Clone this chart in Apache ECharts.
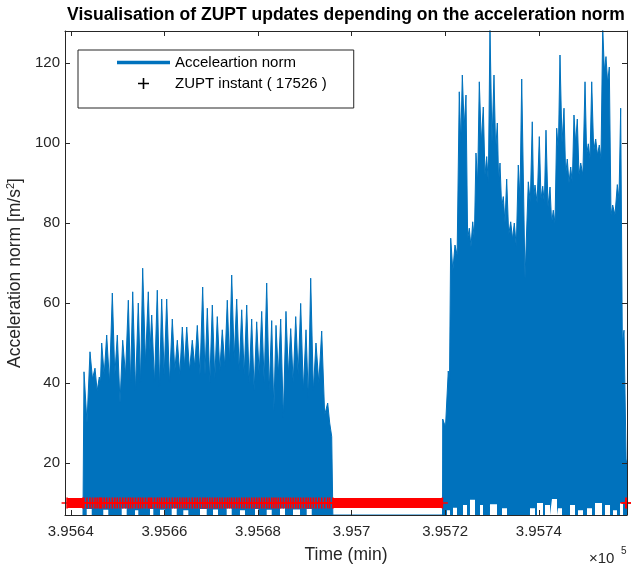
<!DOCTYPE html>
<html><head><meta charset="utf-8">
<script src="https://cdn.jsdelivr.net/npm/echarts@6/dist/echarts.min.js"></script>
<style>html,body{margin:0;padding:0;background:#fff}#c{width:631px;height:565px}</style>
</head><body><div id="c"></div>
<script>
// ---------- data ----------
const chartTitle = 'Visualisation of ZUPT updates depending on the acceleration norm';
const xName = 'Time (min)';
const yName = 'Acceleration norm [m/s{sup|2}]';
const seriesNames = ['Acceleartion norm', 'ZUPT instant ( 17526 )'];
const xTickValues = [395640, 395660, 395680, 395700, 395720, 395740];
const yTickValues = [20, 40, 60, 80, 100, 120];
const xMin = 395638.76, xMax = 395758.85;
const yMin = 7, yMax = 128;
const floorValue = 7;

// walking bout 1: local maxima of the acceleration norm and the dips between them
const seg1Start = 395642.6, seg1End = 395696.0;
const seg1Times = [395642.82,395644.10,395645.17,395646.09,395646.60,395647.67,395648.87,395649.94,395651.09,395652.29,
  395653.23,395654.42,395655.36,395656.56,395657.29,395658.48,395659.42,395660.49,395661.69,395662.76,
  395663.83,395664.77,395665.96,395667.03,395668.18,395669.17,395670.24,395671.30,395672.37,395673.44,
  395674.38,395675.45,395676.52,395677.59,395678.65,395679.72,395680.79,395681.86,395682.93,395683.85,
  395684.85,395685.98,395686.99,395688.06,395689.12,395690.26,395691.26,395692.39,395693.61,395694.89,395695.75];
const seg1Peaks = [42.8,47.8,43.7,41.5,50.0,52.0,62.5,52.0,50.7,60.7,62.8,60.0,68.7,62.8,57.0,63.2,61.0,61.0,56.0,50.7,
  54.0,54.0,50.7,54.4,64.0,58.7,59.5,56.6,53.3,60.7,67.0,61.0,58.3,59.5,56.0,55.3,57.9,65.0,55.6,54.4,
  56.0,57.9,53.6,56.6,59.9,53.3,66.2,50.0,53.0,35.0,26.6];
const seg1Gaps = [30,41,38,40,42,40,42,35,42,40,38,40,45,48,40,39,42,40,43,42,
  44,43,44,42,42,40,41,43,44,45,46,43,42,40,38,42,40,38,33,42,31,42,40,42,38,36,38,40,32,30];

// walking bout 2
const seg2Start = 395719.43, seg2End = 395759.3;
const seg2Times = [395719.47,395720.66,395721.18,395722.09,395723.01,395723.66,395724.45,395725.15,395725.88,395726.58,
  395727.29,395728.14,395728.87,395729.57,395730.43,395731.14,395731.71,395732.42,395733.14,395734.00,
  395734.77,395735.62,395736.35,395737.76,395738.61,395739.19,395740.11,395740.84,395741.54,395742.40,
  395743.10,395743.83,395744.53,395745.39,395746.09,395746.82,395747.52,395748.23,395748.96,395749.88,
  395750.58,395751.31,395752.16,395752.93,395753.66,395754.36,395755.07,395755.79,395756.78,395757.50,
  395758.21,395759.13];
const seg2Peaks = [31,43,76.2,74.5,112.8,117,112,78.7,80.3,97.5,115.3,109,96.6,129,117,105,95,86.6,91,80.3,
  80,94.5,116,90.3,105.3,89.5,101.6,89.2,103.2,89,83.2,103.7,122,108.7,96,94,107,106,95,115.3,
  99.8,115.3,101,99.5,129,121.6,119,84.5,89.6,108.7,53.2,21.6];
const seg2Gaps = [29,40,68,72,100,104,76,74,76,90,100,92,90,100,98,90,84,80,77,76,
  74,86,66,85,86,85,86,85,84,80,80,98,100,92,90,90,100,92,92,97,
  96,98,97,96,118,115,82,82,86,50,20];

// low dips of the norm that do not reach the floor (start, end, height)
const notchStart = [395643.40,395646.94,395650.88,395653.72,395656.92,395659.06,395661.56,395664.04,395667.61,395670.39,
  395673.31,395676.15,395679.36,395681.86,395684.70,395687.48,395690.41,
  395720.39,395721.67,395723.81,395725.30,395727.44,395729.57,395732.14,395738.12,395739.62,395741.33,
  395742.82,395744.10,395746.67,395748.38,395750.30,395752.01,395754.15,395755.86,395757.36];
const notchEnd = [395644.47,395648.01,395651.94,395654.42,395657.63,395660.13,395662.63,395665.11,395669.04,395671.45,
  395674.38,395677.22,395680.07,395682.93,395685.77,395688.98,395691.48,
  395721.03,395722.52,395724.66,395726.37,395728.08,395731.07,395733.21,395739.19,395740.90,395742.40,
  395743.89,395744.96,395747.74,395749.45,395751.37,395753.51,395755.22,395756.71,395758.00];
const notchTop = [8.5,8.3,8.6,8.2,8.5,8.3,8.6,8.2,8.5,8.4,8.6,8.2,8.5,8.3,8.6,8.4,8.5,
  8.2,8.8,9.5,10.8,9.5,9.7,8.7,8.7,10.0,9.5,11.0,8.7,9.5,8.2,8.7,10.0,9.5,8.2,10.0];

// ZUPT instants: continuous stationary intervals and the level they are drawn at
const zuptLevel = 10;
const zuptBandStart = [395639.2, 395696.0, 395758.6];
const zuptBandEnd = [395642.6, 395719.4, 395758.9];

// ---------- build ----------
const FONT = '"Liberation Sans", Arial, Helvetica, sans-serif';
const TXT = '#262626';
const BLUE = '#0072BD';
const RED = '#FF0000';
const plusPath = 'path://M4.7,0H6.3V4.7H11V6.3H6.3V11H4.7V6.3H0V4.7H4.7Z';

function envelope(start, times, peaks, gaps, end) {
  const pts = [[start, floorValue]];
  for (let i = 0; i < times.length; i++) {
    pts.push([times[i], peaks[i]]);
    if (i < gaps.length && i < times.length - 1) pts.push([(times[i] + times[i + 1]) / 2, gaps[i]]);
  }
  pts.push([end, floorValue]);
  return pts;
}
const normData = envelope(seg1Start, seg1Times, seg1Peaks, seg1Gaps, seg1End)
  .concat(envelope(seg2Start, seg2Times, seg2Peaks, seg2Gaps, seg2End));

const notchData = [];
for (let i = 0; i < notchStart.length; i++) {
  notchData.push([notchStart[i], floorValue], [notchStart[i], notchTop[i]],
                 [notchEnd[i], notchTop[i]], [notchEnd[i], floorValue]);
}

const bandData = [];
for (let i = 0; i < zuptBandStart.length; i++) {
  if (i) bandData.push([null, null]);
  bandData.push([zuptBandStart[i], zuptLevel], [zuptBandEnd[i], zuptLevel]);
}
const zuptStepData = [];
for (let i = 0; i < seg1Times.length - 1; i++) {
  zuptStepData.push([seg1Times[i], zuptLevel], [(seg1Times[i] + seg1Times[i + 1]) / 2, zuptLevel]);
}

const fmtX = v => String(+(v / 1e5).toFixed(4));
function xAxisDef(pos, main) {
  return {
    type: 'value', position: pos, min: xMin, max: xMax, z: 10,
    axisLine: { show: true, onZero: false, lineStyle: { color: TXT, width: 1 } },
    axisTick: { show: true, inside: true, length: 5, customValues: xTickValues, lineStyle: { color: TXT } },
    axisLabel: { show: main, customValues: xTickValues, formatter: fmtX, color: TXT, fontSize: 15, fontFamily: FONT, margin: 9 },
    splitLine: { show: false },
    name: main ? xName : '', nameLocation: 'middle', nameGap: 31,
    nameTextStyle: { color: TXT, fontSize: 17.5, fontFamily: FONT }
  };
}
function yAxisDef(pos, main) {
  return {
    type: 'value', position: pos, min: yMin, max: yMax, z: 10,
    axisLine: { show: true, onZero: false, lineStyle: { color: TXT, width: 1 } },
    axisTick: { show: true, inside: true, length: 5, customValues: yTickValues, lineStyle: { color: TXT } },
    axisLabel: { show: main, customValues: yTickValues, color: TXT, fontSize: 15, fontFamily: FONT, margin: 5 },
    splitLine: { show: false },
    name: main ? yName : '', nameLocation: 'middle', nameGap: 32,
    nameTextStyle: { color: TXT, fontSize: 17.5, fontFamily: FONT,
      rich: { sup: { fontSize: 11, color: TXT, fontFamily: FONT, verticalAlign: 'top', padding: [0, 0, 9, 0] } } }
  };
}

const chart = echarts.init(document.getElementById('c'), null, { renderer: 'canvas' });
chart.setOption({
  animation: false,
  backgroundColor: '#fff',
  title: { text: chartTitle, left: 346, textAlign: 'center', top: 6, padding: 0,
    textStyle: { fontSize: 17.5, fontWeight: 'bold', color: '#000', fontFamily: FONT } },
  grid: { left: 65, right: 4, top: 31, bottom: 50, containLabel: false, outerBoundsMode: 'none' },
  xAxis: [xAxisDef('bottom', true), xAxisDef('top', false)],
  yAxis: [yAxisDef('left', true), yAxisDef('right', false)],
  legend: {
    orient: 'vertical', left: 78, top: 50, selectedMode: false,
    padding: [5, 27, 17, 39], itemWidth: 53, itemHeight: 11, itemGap: 6, itemTextGap: 7,
    borderColor: TXT, borderWidth: 1, backgroundColor: '#fff',
    textStyle: { fontSize: 15, color: '#000', fontFamily: FONT },
    data: [
      { name: seriesNames[0], icon: 'path://M0,0H53V3.5H0Z', itemStyle: { color: BLUE } },
      { name: seriesNames[1], icon: plusPath, itemStyle: { color: '#000' } }
    ]
  },
  graphic: [
    { type: 'text', left: 589, top: 551, style: { text: '×10', fontSize: 15, fontFamily: FONT, fill: TXT } },
    { type: 'text', left: 621, top: 546, style: { text: '5', fontSize: 10, fontFamily: FONT, fill: TXT } }
  ],
  series: [
    { name: seriesNames[0], type: 'line', data: normData, symbol: 'none', z: 2,
      lineStyle: { color: BLUE, width: 1 }, itemStyle: { color: BLUE },
      areaStyle: { color: BLUE, opacity: 1, origin: 'start' } },
    { name: 'floor', type: 'line', data: notchData, symbol: 'none', z: 3,
      lineStyle: { width: 0, opacity: 0 }, areaStyle: { color: '#fff', opacity: 1, origin: 'start' } },
    { name: seriesNames[1], type: 'line', data: bandData, connectNulls: false, clip: false, z: 4,
      symbol: plusPath, symbolSize: 11, showSymbol: true, showAllSymbol: true,
      lineStyle: { color: RED, width: 10, cap: 'butt' }, itemStyle: { color: RED } },
    { name: seriesNames[1], type: 'scatter', data: zuptStepData, z: 4,
      symbol: plusPath, symbolSize: 11, itemStyle: { color: RED, opacity: 1 } }
  ]
});
</script>
</body></html>
